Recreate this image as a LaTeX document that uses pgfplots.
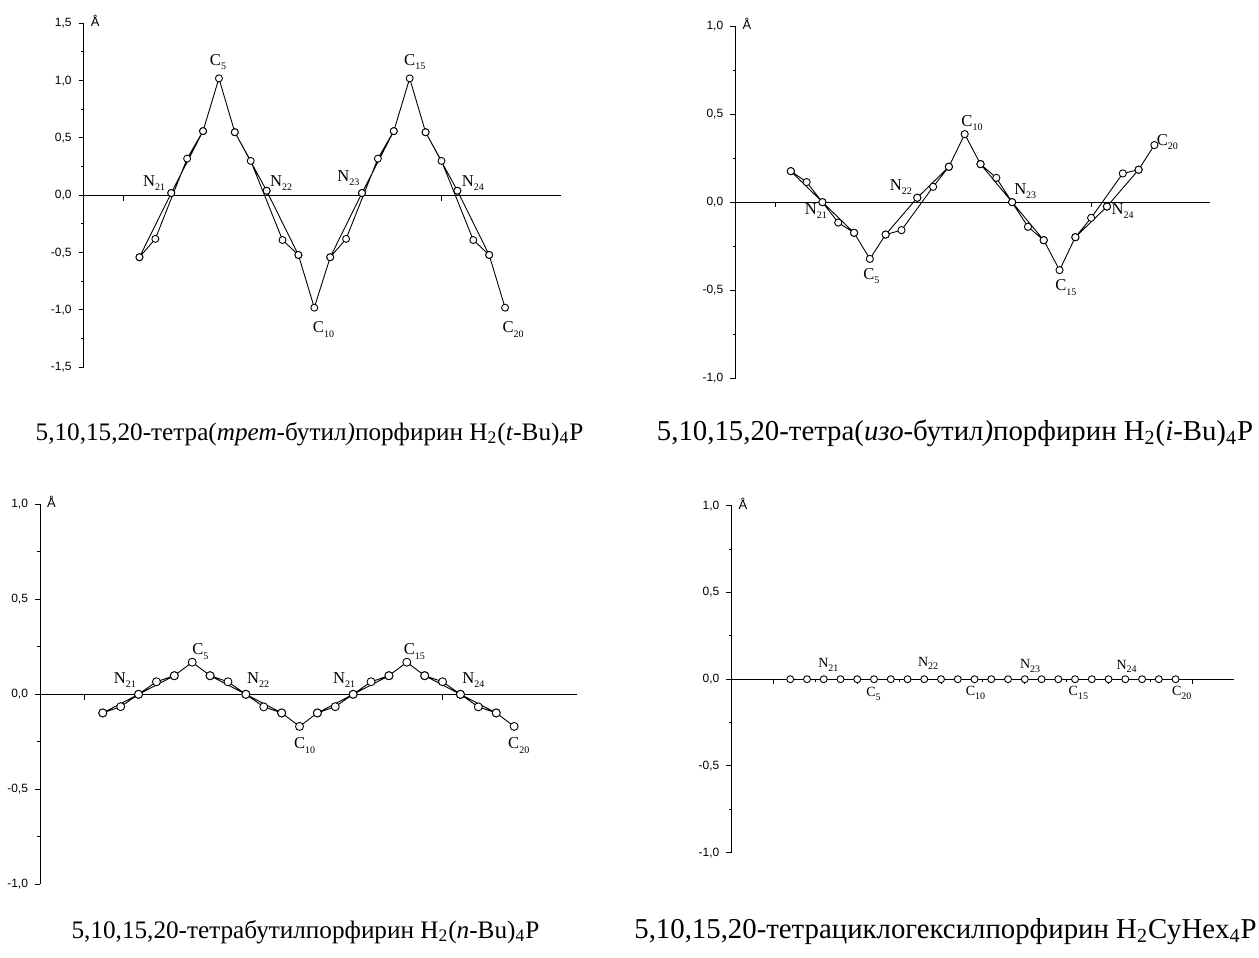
\documentclass[border=0pt]{standalone}
\usepackage{pgfplots}
\pgfplotsset{compat=1.18}
\usepackage{fontspec}
\setmainfont{Liberation Serif}
\newfontfamily\sansf{Liberation Sans}
\newcommand\tickfont{\sansf\fontsize{6}{7}\selectfont}
\newcommand\sub[1]{\raisebox{-0.55ex}{\fontsize{5}{5}\selectfont #1}}
\newcommand\lblfont{\fontsize{8.3}{9}\selectfont}
\newcommand\capfont{\fontsize{12.6}{14}\selectfont}
\newcommand\capfontR{\fontsize{14.4}{16}\selectfont}
\tikzset{lbl/.style={font=\lblfont, inner sep=0pt}}
\pgfplotsset{
  dat/.style={black, line width=0.45pt, line join=round, mark=*, mark size=1.75pt,
    mark options={fill=white, draw=black, line width=0.45pt, solid}},
  panel/.style={
    scale only axis, clip=false,
    axis x line*=middle, axis y line*=left,
    xmin=-2.5, xmax=27.5,
    xtick={0,20}, xticklabels={},
    hide obscured x ticks=false, hide obscured y ticks=false,
    tick align=outside,
    major tick length=2.6pt, minor tick length=1.5pt,
    minor y tick num=1,
    axis line style={line width=0.6pt},
    tick style={line width=0.5pt, black},
    yticklabel style={font=\tickfont, /pgf/number format/.cd, use comma, fixed, fixed zerofill, precision=1, assume math mode=true},
    after end axis/.code={\node[anchor=base west, font=\sansf\fontsize{6.5}{7}\selectfont, inner sep=0pt, xshift=3.3pt, yshift=-1.8pt] at (rel axis cs:0,1) {Å};},
  },
}
\begin{document}
\begin{tikzpicture}
\path[use as bounding box] (0,0) rectangle (629.5pt,-479pt);

% Panel 1: t-Bu
\begin{axis}[panel, at={(41.9pt,-183.65pt)}, anchor=south west, width=238.45pt, height=172pt,
  ymin=-1.5, ymax=1.5, ytick={-1.5,-1,-0.5,0,0.5,1,1.5}]
\addplot[dat] table[row sep=\\]{
x y\\
1 -0.54\\ 2 -0.38\\ 4 0.32\\ 5 0.56\\ 3 0.02\\ 1 -0.54\\ 3 0.02\\ 5 0.56\\
6 1.02\\ 7 0.55\\ 8 0.30\\ 10 -0.39\\ 11 -0.52\\ 9 0.04\\ 7 0.55\\ 9 0.04\\ 11 -0.52\\
12 -0.98\\ 13 -0.54\\ 14 -0.38\\ 16 0.32\\ 17 0.56\\ 15 0.02\\ 13 -0.54\\ 15 0.02\\ 17 0.56\\
18 1.02\\ 19 0.55\\ 20 0.30\\ 22 -0.39\\ 23 -0.52\\ 21 0.04\\ 19 0.55\\ 21 0.04\\ 23 -0.52\\
24 -0.98\\
};
\node[lbl] at (axis cs:5.94,1.16) {C\sub{5}};
\node[lbl] at (axis cs:1.92,0.110) {N\sub{21}};
\node[lbl] at (axis cs:9.92,0.105) {N\sub{22}};
\node[lbl] at (axis cs:12.58,-1.17) {C\sub{10}};
\node[lbl] at (axis cs:14.15,0.150) {N\sub{23}};
\node[lbl] at (axis cs:18.32,1.16) {C\sub{15}};
\node[lbl] at (axis cs:21.98,0.105) {N\sub{24}};
\node[lbl] at (axis cs:24.51,-1.17) {C\sub{20}};
\end{axis}

% Panel 2: i-Bu
\begin{axis}[panel, at={(367.75pt,-189.15pt)}, anchor=south west, width=237.1pt, height=176.15pt,
  ymin=-1, ymax=1, ytick={-1,-0.5,0,0.5,1}]
\addplot[dat, mark size=1.8pt] table[row sep=\\]{
x y\\
1 0.176\\ 2 0.114\\ 4 -0.116\\ 5 -0.174\\ 3 0.0\\ 1 0.176\\ 3 0.0\\ 5 -0.174\\
6 -0.322\\ 7 -0.184\\ 8 -0.159\\ 10 0.087\\ 11 0.201\\ 9 0.025\\ 7 -0.184\\ 9 0.025\\ 11 0.201\\
12 0.386\\ 13 0.216\\ 14 0.138\\ 16 -0.140\\ 17 -0.216\\ 15 0.0\\ 13 0.216\\ 15 0.0\\ 17 -0.216\\
18 -0.386\\ 19 -0.199\\ 20 -0.089\\ 22 0.163\\ 23 0.184\\ 21 -0.025\\ 19 -0.199\\ 21 -0.025\\ 23 0.184\\
24 0.324\\
};
\node[lbl] at (axis cs:2.59,-0.05) {N\sub{21}};
\node[lbl] at (axis cs:6.09,-0.42) {C\sub{5}};
\node[lbl] at (axis cs:7.96,0.087) {N\sub{22}};
\node[lbl] at (axis cs:12.46,0.447) {C\sub{10}};
\node[lbl] at (axis cs:15.83,0.064) {N\sub{23}};
\node[lbl] at (axis cs:18.40,-0.485) {C\sub{15}};
\node[lbl] at (axis cs:21.99,-0.05) {N\sub{24}};
\node[lbl] at (axis cs:24.82,0.343) {C\sub{20}};
\end{axis}

% Panel 3: n-Bu
\begin{axis}[panel, at={(20.1pt,-442.15pt)}, anchor=south west, width=268.25pt, height=190pt,
  ymin=-1, ymax=1, ytick={-1,-0.5,0,0.5,1}]
\addplot[dat, mark size=2pt] table[row sep=\\]{
x y\\
1 -0.098\\ 2 -0.065\\ 4 0.066\\ 5 0.098\\ 3 0.0\\ 1 -0.098\\ 3 0.0\\ 5 0.098\\
6 0.169\\ 7 0.098\\ 8 0.066\\ 10 -0.066\\ 11 -0.098\\ 9 0.0\\ 7 0.098\\ 9 0.0\\ 11 -0.098\\
12 -0.169\\ 13 -0.098\\ 14 -0.065\\ 16 0.066\\ 17 0.098\\ 15 0.0\\ 13 -0.098\\ 15 0.0\\ 17 0.098\\
18 0.169\\ 19 0.098\\ 20 0.066\\ 22 -0.066\\ 23 -0.098\\ 21 0.0\\ 19 0.098\\ 21 0.0\\ 23 -0.098\\
24 -0.169\\
};
\node[lbl] at (axis cs:2.24,0.075) {N\sub{21}};
\node[lbl] at (axis cs:6.46,0.225) {C\sub{5}};
\node[lbl] at (axis cs:9.68,0.075) {N\sub{22}};
\node[lbl] at (axis cs:12.29,-0.27) {C\sub{10}};
\node[lbl] at (axis cs:14.5,0.075) {N\sub{21}};
\node[lbl] at (axis cs:18.42,0.225) {C\sub{15}};
\node[lbl] at (axis cs:21.72,0.075) {N\sub{24}};
\node[lbl] at (axis cs:24.26,-0.27) {C\sub{20}};
\end{axis}

% Panel 4: CyHex
\begin{axis}[panel, at={(365.8pt,-426.35pt)}, anchor=south west, width=251.3pt, height=173.5pt,
  ymin=-1, ymax=1, ytick={-1,-0.5,0,0.5,1},
  xtick={0,5,10,15,20,25}, xticklabels={}, minor x tick num=1]
\addplot[dat] table[row sep=\\]{
x y\\
1 0\\ 2 0\\ 3 0\\ 4 0\\ 5 0\\ 6 0\\ 7 0\\ 8 0\\ 9 0\\ 10 0\\ 11 0\\ 12 0\\
13 0\\ 14 0\\ 15 0\\ 16 0\\ 17 0\\ 18 0\\ 19 0\\ 20 0\\ 21 0\\ 22 0\\ 23 0\\ 24 0\\
};
\node[lbl, font=\fontsize{7}{8}\selectfont] at (axis cs:3.28,0.083) {N\sub{21}};
\node[lbl, font=\fontsize{7}{8}\selectfont] at (axis cs:5.97,-0.085) {C\sub{5}};
\node[lbl, font=\fontsize{7}{8}\selectfont] at (axis cs:9.23,0.092) {N\sub{22}};
\node[lbl, font=\fontsize{7}{8}\selectfont] at (axis cs:12.06,-0.078) {C\sub{10}};
\node[lbl, font=\fontsize{7}{8}\selectfont] at (axis cs:15.32,0.075) {N\sub{23}};
\node[lbl, font=\fontsize{7}{8}\selectfont] at (axis cs:18.2,-0.078) {C\sub{15}};
\node[lbl, font=\fontsize{7}{8}\selectfont] at (axis cs:21.08,0.075) {N\sub{24}};
\node[lbl, font=\fontsize{7}{8}\selectfont] at (axis cs:24.37,-0.078) {C\sub{20}};
\end{axis}

% Captions
\node[font=\capfont, anchor=base, inner sep=0pt] at (154.75pt,-220pt)
  {5,10,15,20-тетра(\textit{трет}-бутил\textit{)}порфирин H\textsubscript{2}(\textit{t}-Bu)\textsubscript{4}P};
\node[font=\capfontR, anchor=base, inner sep=0pt] at (477.5pt,-220pt)
  {5,10,15,20-тетра(\textit{изо}-бутил\textit{)}порфирин H\textsubscript{2}(\textit{i}-Bu)\textsubscript{4}P};
\node[font=\capfont, anchor=base, inner sep=0pt] at (152.75pt,-469pt)
  {5,10,15,20-тетрабутилпорфирин H\textsubscript{2}(\textit{n}-Bu)\textsubscript{4}P};
\node[font=\capfontR, anchor=base, inner sep=0pt] at (472.75pt,-469pt)
  {5,10,15,20-тетрациклогексилпорфирин H\textsubscript{2}CyHex\textsubscript{4}P};
\end{tikzpicture}
\end{document}
